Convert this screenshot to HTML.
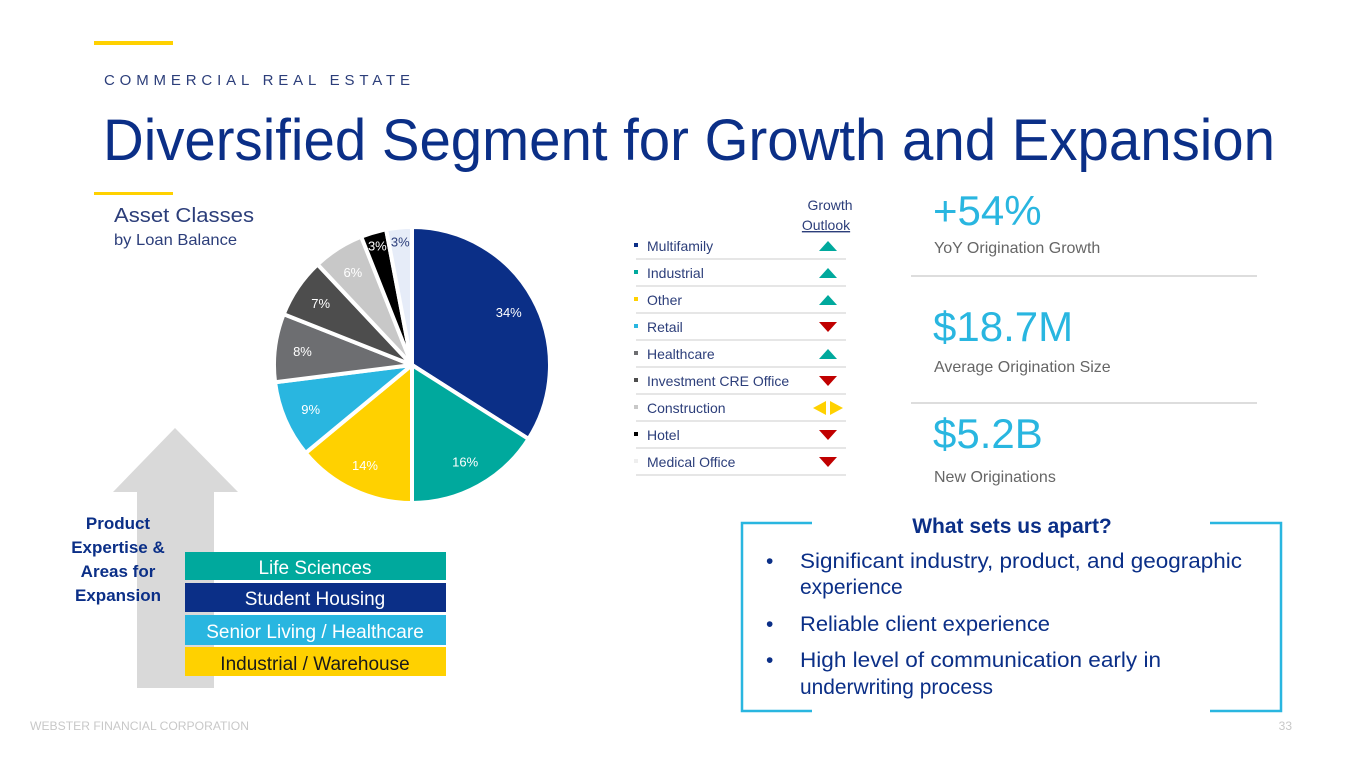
<!DOCTYPE html>
<html><head><meta charset="utf-8"><style>
body{margin:0;width:1365px;height:768px;overflow:hidden;background:#fff;font-family:"Liberation Sans",sans-serif}
svg text{font-family:"Liberation Sans",sans-serif}
</style></head><body>
<svg id="s" width="1365" height="768" viewBox="0 0 1365 768" xmlns="http://www.w3.org/2000/svg">
<rect x="94" y="41" width="79" height="4" fill="#ffd100"/>
<text x="104" y="85" font-size="15" fill="#2c3e7a" textLength="306" lengthAdjust="spacing">COMMERCIAL REAL ESTATE</text>
<text x="103" y="160" font-size="58" fill="#0b2f87" textLength="1172" lengthAdjust="spacingAndGlyphs">Diversified Segment for Growth and Expansion</text>
<rect x="94" y="192" width="79" height="3" fill="#ffd100"/>
<text x="114" y="222" font-size="20" fill="#2c3e7a" textLength="140" lengthAdjust="spacingAndGlyphs">Asset Classes</text>
<text x="114" y="245" font-size="16" fill="#2c3e7a" textLength="123" lengthAdjust="spacingAndGlyphs">by Loan Balance</text>
<g id="pie"></g>
<g id="legend"></g>
<text x="830" y="210" font-size="14" fill="#2c3e7a" text-anchor="middle">Growth</text>
<text x="826" y="230" font-size="14" fill="#2c3e7a" text-anchor="middle" text-decoration="underline">Outlook</text>
<polygon points="175,428 238,492 214,492 214,688 137,688 137,492 113,492" fill="#d9d9d9"/>
<g font-size="17" font-weight="bold" fill="#0b2f87" text-anchor="middle">
<text x="118" y="529">Product</text><text x="118" y="553">Expertise &amp;</text><text x="118" y="577">Areas for</text><text x="118" y="601">Expansion</text></g>
<rect x="185" y="552" width="261" height="28" fill="#00a99d"/>
<text x="315" y="574" font-size="19" fill="#fff" text-anchor="middle">Life Sciences</text>
<rect x="185" y="583" width="261" height="29" fill="#0b2f87"/>
<text x="315" y="605" font-size="19" fill="#fff" text-anchor="middle">Student Housing</text>
<rect x="185" y="615" width="261" height="30" fill="#29b6e0"/>
<text x="315" y="638" font-size="19" fill="#fff" text-anchor="middle">Senior Living / Healthcare</text>
<rect x="185" y="647" width="261" height="29" fill="#ffd100"/>
<text x="315" y="670" font-size="19" fill="#1a1a1a" text-anchor="middle">Industrial / Warehouse</text>
<text x="933" y="225" font-size="42" fill="#29b6e0">+54%</text>
<text x="934" y="253" font-size="16" fill="#666">YoY Origination Growth</text>
<line x1="911" x2="1257" y1="276" y2="276" stroke="#ddd" stroke-width="2"/>
<text x="933" y="341" font-size="42" fill="#29b6e0">$18.7M</text>
<text x="934" y="372" font-size="16" fill="#666">Average Origination Size</text>
<line x1="911" x2="1257" y1="403" y2="403" stroke="#ddd" stroke-width="2"/>
<text x="933" y="448" font-size="42" fill="#29b6e0">$5.2B</text>
<text x="934" y="482" font-size="16" fill="#666">New Originations</text>
<g fill="none" stroke="#29b6e0" stroke-width="2.5">
<polyline points="812,523 742,523 742,711 812,711"/><polyline points="1210,523 1281,523 1281,711 1210,711"/></g>
<text x="1012" y="533" font-size="21" font-weight="bold" fill="#0b2f87" text-anchor="middle">What sets us apart?</text>
<g font-size="21" fill="#0b2f87">
<text x="766" y="568">•</text><text x="800" y="568" textLength="442" lengthAdjust="spacingAndGlyphs">Significant industry, product, and geographic</text>
<text x="800" y="594">experience</text>
<text x="766" y="631">•</text><text x="800" y="631" textLength="250" lengthAdjust="spacingAndGlyphs">Reliable client experience</text>
<text x="766" y="667">•</text><text x="800" y="667" textLength="361" lengthAdjust="spacingAndGlyphs">High level of communication early in</text>
<text x="800" y="694" textLength="193" lengthAdjust="spacingAndGlyphs">underwriting process</text></g>
<text x="30" y="730" font-size="12" fill="#c8c8c8" textLength="219" lengthAdjust="spacingAndGlyphs">WEBSTER FINANCIAL CORPORATION</text>
<text x="1292" y="730" font-size="12" fill="#c8c8c8" text-anchor="end">33</text>
</svg>
<script>
const categories=["Multifamily","Industrial","Other","Retail","Healthcare","Investment CRE Office","Construction","Hotel","Medical Office"];
const values=[34,16,14,9,8,7,6,3,3];
const outlook=["up","up","up","down","up","down","flat","down","down"];
const colors=["#0b2f87","#00a99d","#ffd100","#29b6e0","#6d6e71","#4d4d4d","#c8c8c8","#000000","#e6ecf8"];
const labelColors=["#fff","#fff","#fff","#fff","#fff","#fff","#fff","#fff","#2c3e7a"];
const NS="http://www.w3.org/2000/svg";
const cx=412,cy=365,r=138;
const pie=document.getElementById('pie');
const total=values.reduce((a,b)=>a+b,0);
let a0=0;
function pt(ang,rad){return [cx+rad*Math.sin(ang),cy-rad*Math.cos(ang)];}
values.forEach((v,i)=>{
  const a1=a0+v/total*2*Math.PI;
  const p0=pt(a0,r),p1=pt(a1,r);
  const path=document.createElementNS(NS,'path');
  path.setAttribute('d',`M${cx},${cy}L${p0[0]},${p0[1]}A${r},${r} 0 ${a1-a0>Math.PI?1:0} 1 ${p1[0]},${p1[1]}Z`);
  path.setAttribute('fill',colors[i]);path.setAttribute('stroke','#fff');path.setAttribute('stroke-width','4');path.setAttribute('stroke-linejoin','round');
  
  
  pie.appendChild(path);
  const m=(a0+a1)/2, lr=v<5?r*0.9:r*0.8, lp=pt(m,lr);
  const t=document.createElementNS(NS,'text');
  t.setAttribute('x',lp[0]);t.setAttribute('y',lp[1]+5);t.setAttribute('font-size','13');t.setAttribute('text-anchor','middle');t.setAttribute('fill',labelColors[i]);
  t.textContent=v+'%';
  
  
  pie.appendChild(t);
  a0=a1;
});
const lg=document.getElementById('legend');
categories.forEach((c,i)=>{
  const y=251+i*27;
  const sq=document.createElementNS(NS,'rect');
  sq.setAttribute('x',634);sq.setAttribute('y',y-8);sq.setAttribute('width',4);sq.setAttribute('height',4);sq.setAttribute('fill',colors[i]==="#e6ecf8"?"#eee":colors[i]);
  
  
  lg.appendChild(sq);
  const t=document.createElementNS(NS,'text');
  t.setAttribute('x',647);t.setAttribute('y',y);t.setAttribute('font-size','14');t.setAttribute('fill','#2c3e7a');t.textContent=c;
  
  
  lg.appendChild(t);
  const ln=document.createElementNS(NS,'line');
  ln.setAttribute('x1',636);ln.setAttribute('x2',846);ln.setAttribute('y1',y+8);ln.setAttribute('y2',y+8);ln.setAttribute('stroke','#ddd');ln.setAttribute('stroke-width','1.5');
  lg.appendChild(ln);
  const tx=828,ty=y-5;
  let shapes=[],fill;
  if(outlook[i]==="up"){shapes=[`${tx-9},${ty+5} ${tx+9},${ty+5} ${tx},${ty-5}`];fill="#00a99d";}
  else if(outlook[i]==="down"){shapes=[`${tx-9},${ty-5} ${tx+9},${ty-5} ${tx},${ty+5}`];fill="#c00000";}
  else{shapes=[`${tx-15},${ty} ${tx-2},${ty-7} ${tx-2},${ty+7}`,`${tx+2},${ty-7} ${tx+15},${ty} ${tx+2},${ty+7}`];fill="#ffd100";}
  shapes.forEach(p=>{
    const tri=document.createElementNS(NS,'polygon');
    tri.setAttribute('points',p);tri.setAttribute('fill',fill);
    
    
    lg.appendChild(tri);
  });
});
</script>
</body></html>
